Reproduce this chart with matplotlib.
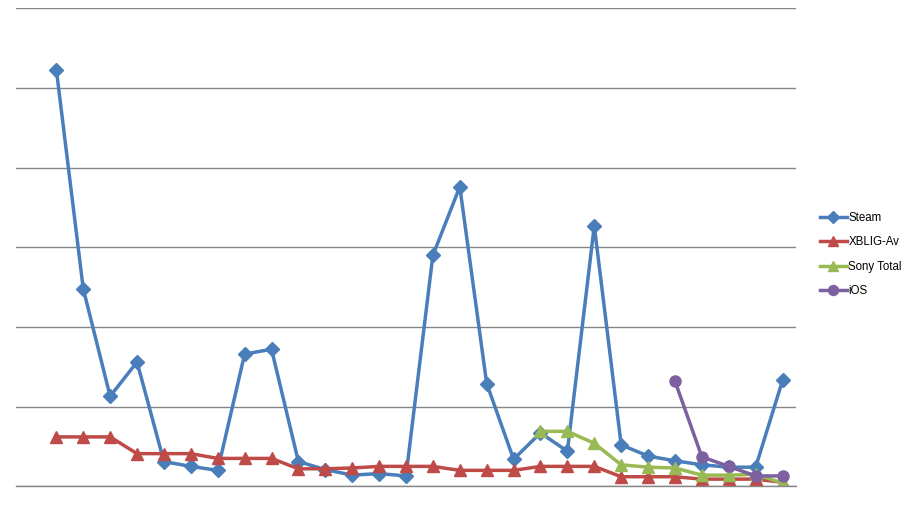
import numpy as np
import matplotlib
matplotlib.use("Agg")
import matplotlib.pyplot as plt

nan = np.nan
categories = list(range(29))
steam = [nan, 5.23, 2.48, 1.13, 1.56, 0.31, 0.25, 0.20, 1.66, 1.72, 0.31, 0.21, 0.14, 0.16, 0.13,
         2.90, 3.76, 1.29, 0.34, 0.67, 0.44, 3.27, 0.52, 0.38, 0.32, 0.27, 0.24, 0.24, 1.33]
xblig = [nan, 0.62, 0.62, 0.62, 0.41, 0.41, 0.41, 0.35, 0.35, 0.35, 0.22, 0.22, 0.23, 0.25, 0.25,
         0.25, 0.20, 0.20, 0.20, 0.25, 0.25, 0.25, 0.12, 0.12, 0.12, 0.09, 0.09, 0.09, 0.05]
sony = [nan] * 19 + [0.69, 0.69, 0.54, 0.27, 0.24, 0.23, 0.14, 0.14, 0.15, 0.04]
ios = [nan] * 24 + [1.32, 0.37, 0.25, 0.13, 0.13]

series = [
    ("Steam", steam, "#4A7EBB", "D", 7.0),
    ("XBLIG-Av", xblig, "#BE4B48", "^", 8.0),
    ("Sony Total", sony, "#98B954", "^", 8.0),
    ("iOS", ios, "#7D60A0", "o", 8.0),
]

fig = plt.figure(figsize=(9.19, 5.16), dpi=100)
W, H = 919, 516
ax = fig.add_axes([16 / W, 1 - 486.3 / H, (796 - 16) / W, (486.3 - 8.3) / H])

x = np.arange(len(categories))
for name, vals, col, mk, ms in series:
    ax.plot(x, vals, color=col, lw=2.5, marker=mk, markersize=ms,
            markeredgecolor=col, label=name, solid_joinstyle="round")

ax.set_xlim(-0.5, len(categories) - 0.5)
ax.set_ylim(0, 6)
ax.set_yticks(range(7))
ax.yaxis.grid(True, color="#868686", lw=1)
ax.set_axisbelow(True)
ax.tick_params(left=False, bottom=False, labelleft=False, labelbottom=False)
for s in ["left", "right", "top"]:
    ax.spines[s].set_visible(False)
ax.spines["bottom"].set_color("#868686")
ax.spines["bottom"].set_linewidth(1)

leg = fig.legend(loc="center left", bbox_to_anchor=(820 / W, 1 - 254.5 / H),
                 frameon=False, borderpad=0, borderaxespad=0, handlelength=2.3,
                 handletextpad=0.15, labelspacing=1.08, markerscale=0.9,
                 prop={"family": "Liberation Sans", "size": 8.3})

fig.savefig("out.png", dpi=100)
